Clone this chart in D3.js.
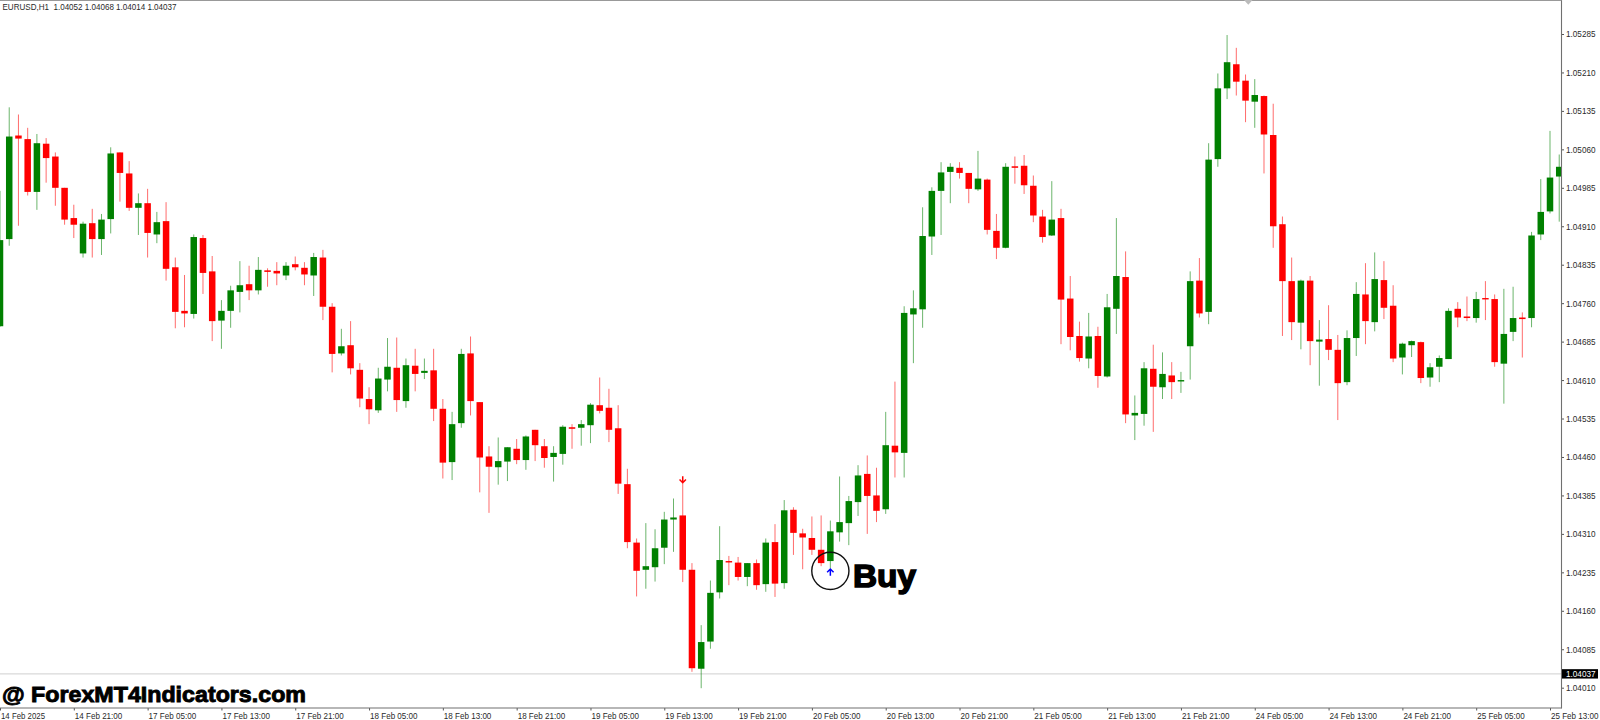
<!DOCTYPE html>
<html><head><meta charset="utf-8">
<style>html,body{margin:0;padding:0;background:#fff;overflow:hidden}svg{display:block}text{font-family:"Liberation Sans",sans-serif}</style>
<script src="https://cdn.jsdelivr.net/npm/d3@7/dist/d3.min.js"></script>
</head><body><svg id="c" width="1600" height="720"></svg>
<script>
const symbolTitle="EURUSD,H1";
const currentOHLC=["1.04052","1.04068","1.04014","1.04037"];
const currentPrice=1.04037;
const opens=[1.04715,1.04885,1.05087,1.05080,1.04977,1.05071,1.05046,1.04985,1.04926,1.04857,
1.04916,1.04885,1.04924,1.05054,1.05013,1.04946,1.04955,1.04894,1.04920,1.04830,
1.04745,1.04739,1.04887,1.04822,1.04726,1.04745,1.04782,1.04797,1.04785,1.04824,
1.04823,1.04814,1.04836,1.04829,1.04814,1.04849,1.04753,1.04662,1.04678,1.04630,
1.04573,1.04551,1.04611,1.04634,1.04569,1.04638,1.04624,1.04629,1.04554,1.04450,
1.04526,1.04662,1.04567,1.04461,1.04440,1.04451,1.04476,1.04454,1.04513,1.04481,
1.04460,1.04466,1.04518,1.04517,1.04522,1.04561,1.04556,1.04516,1.04407,1.04293,
1.04240,1.04245,1.04283,1.04338,1.04346,1.04240,1.04047,1.04100,1.04196,1.04257,
1.04254,1.04226,1.04253,1.04212,1.04294,1.04214,1.04357,1.04311,1.04302,1.04279,
1.04257,1.04313,1.04331,1.04372,1.04427,1.04385,1.04358,1.04482,1.04468,1.04738,
1.04748,1.04890,1.04979,1.05016,1.05024,1.05014,1.04982,1.05001,1.04901,1.04868,
1.05027,1.05028,1.04989,1.04929,1.04892,1.04926,1.04769,1.04696,1.04652,1.04696,
1.04617,1.04749,1.04811,1.04541,1.04544,1.04632,1.04596,1.04619,1.04609,1.04676,
1.04804,1.04743,1.05041,1.05179,1.05226,1.05194,1.05153,1.05164,1.05088,1.04914,
1.04803,1.04722,1.04804,1.04685,1.04690,1.04669,1.04606,1.04692,1.04777,1.04723,
1.04805,1.04755,1.04654,1.04678,1.04684,1.04615,1.04636,1.04651,1.04749,1.04734,
1.04731,1.04770,1.04768,1.04642,1.04704,1.04732,1.04731,1.04894,1.04939,1.05007];
const highs=[1.04979,1.05142,1.05128,1.05102,1.05090,1.05082,1.05054,1.04985,1.04952,1.04919,
1.04944,1.04934,1.05064,1.05054,1.05037,1.04974,1.04983,1.04938,1.04957,1.04849,
1.04815,1.04894,1.04893,1.04852,1.04766,1.04794,1.04842,1.04833,1.04850,1.04828,
1.04840,1.04840,1.04851,1.04840,1.04858,1.04864,1.04760,1.04710,1.04725,1.04643,
1.04596,1.04634,1.04692,1.04693,1.04652,1.04671,1.04652,1.04671,1.04573,1.04548,
1.04671,1.04695,1.04567,1.04481,1.04498,1.04479,1.04495,1.04502,1.04513,1.04495,
1.04481,1.04522,1.04524,1.04532,1.04565,1.04615,1.04593,1.04561,1.04437,1.04301,
1.04331,1.04319,1.04353,1.04379,1.04409,1.04253,1.04132,1.04219,1.04325,1.04267,
1.04265,1.04253,1.04260,1.04301,1.04329,1.04376,1.04362,1.04320,1.04344,1.04346,
1.04336,1.04422,1.04384,1.04444,1.04463,1.04439,1.04548,1.04607,1.04754,1.04785,
1.04947,1.04986,1.05035,1.05033,1.05035,1.05014,1.05057,1.05003,1.04934,1.05033,
1.05046,1.05049,1.05009,1.04942,1.04998,1.04944,1.04813,1.04724,1.04741,1.04714,
1.04778,1.04926,1.04861,1.04580,1.04645,1.04679,1.04664,1.04645,1.04626,1.04822,
1.04848,1.05072,1.05208,1.05283,1.05258,1.05206,1.05197,1.05165,1.05149,1.04929,
1.04849,1.04806,1.04813,1.04727,1.04756,1.04698,1.04707,1.04801,1.04838,1.04859,
1.04842,1.04795,1.04683,1.04687,1.04685,1.04643,1.04658,1.04750,1.04762,1.04773,
1.04782,1.04803,1.04777,1.04788,1.04792,1.04742,1.04899,1.05002,1.05096,1.05050];
const lows=[1.04714,1.04872,1.04911,1.04970,1.04942,1.04995,1.04950,1.04913,1.04887,1.04849,
1.04849,1.04854,1.04896,1.04958,1.04940,1.04893,1.04849,1.04877,1.04804,1.04711,
1.04713,1.04730,1.04778,1.04686,1.04671,1.04712,1.04742,1.04766,1.04777,1.04792,
1.04795,1.04805,1.04824,1.04795,1.04774,1.04727,1.04625,1.04658,1.04621,1.04557,
1.04524,1.04546,1.04588,1.04548,1.04556,1.04588,1.04612,1.04530,1.04418,1.04415,
1.04517,1.04541,1.04391,1.04351,1.04406,1.04413,1.04446,1.04435,1.04452,1.04439,
1.04412,1.04445,1.04476,1.04482,1.04487,1.04545,1.04489,1.04388,1.04282,1.04188,
1.04203,1.04217,1.04251,1.04275,1.04216,1.04041,1.04009,1.04086,1.04184,1.04210,
1.04219,1.04208,1.04201,1.04197,1.04187,1.04203,1.04269,1.04241,1.04269,1.04247,
1.04243,1.04295,1.04288,1.04345,1.04310,1.04333,1.04349,1.04420,1.04420,1.04643,
1.04712,1.04854,1.04893,1.04955,1.05003,1.04955,1.04979,1.04894,1.04846,1.04867,
1.04993,1.04973,1.04918,1.04878,1.04891,1.04680,1.04668,1.04646,1.04633,1.04595,
1.04615,1.04700,1.04526,1.04493,1.04521,1.04509,1.04573,1.04573,1.04585,1.04611,
1.04732,1.04719,1.05026,1.05158,1.05165,1.05113,1.05102,1.05013,1.04868,1.04696,
1.04688,1.04670,1.04639,1.04599,1.04649,1.04532,1.04600,1.04657,1.04680,1.04705,
1.04729,1.04645,1.04621,1.04655,1.04604,1.04597,1.04606,1.04651,1.04713,1.04725,
1.04722,1.04727,1.04636,1.04564,1.04686,1.04654,1.04713,1.04883,1.04935,1.04919];
const closes=[1.04883,1.05085,1.05081,1.04977,1.05072,1.05043,1.04985,1.04923,1.04913,1.04915,
1.04885,1.04923,1.05052,1.05014,1.04946,1.04955,1.04897,1.04918,1.04827,1.04743,
1.04740,1.04889,1.04819,1.04725,1.04745,1.04785,1.04795,1.04785,1.04825,1.04821,
1.04818,1.04833,1.04830,1.04816,1.04850,1.04753,1.04661,1.04676,1.04633,1.04574,
1.04553,1.04613,1.04636,1.04571,1.04639,1.04622,1.04628,1.04554,1.04449,1.04524,
1.04661,1.04569,1.04459,1.04441,1.04452,1.04479,1.04454,1.04500,1.04483,1.04458,
1.04468,1.04519,1.04515,1.04524,1.04562,1.04550,1.04513,1.04408,1.04294,1.04238,
1.04247,1.04282,1.04338,1.04342,1.04240,1.04048,1.04099,1.04195,1.04259,1.04255,
1.04226,1.04253,1.04210,1.04293,1.04213,1.04356,1.04312,1.04303,1.04279,1.04253,
1.04315,1.04333,1.04374,1.04424,1.04384,1.04355,1.04483,1.04469,1.04741,1.04750,
1.04891,1.04979,1.05015,1.05026,1.05014,1.04983,1.05003,1.04903,1.04868,1.05026,
1.05024,1.04990,1.04931,1.04889,1.04923,1.04767,1.04694,1.04653,1.04695,1.04618,
1.04752,1.04813,1.04543,1.04546,1.04633,1.04597,1.04622,1.04606,1.04610,1.04803,
1.04740,1.05040,1.05179,1.05230,1.05192,1.05155,1.05166,1.05089,1.04910,1.04803,
1.04723,1.04804,1.04686,1.04689,1.04669,1.04604,1.04692,1.04778,1.04725,1.04807,
1.04751,1.04652,1.04681,1.04686,1.04614,1.04635,1.04653,1.04745,1.04732,1.04731,
1.04768,1.04769,1.04645,1.04700,1.04731,1.04729,1.04892,1.04938,1.05005,1.05026];
const priceTicks=[1.05285,1.05210,1.05135,1.05060,1.04985,1.04910,1.04835,1.04760,1.04685,1.04610,1.04535,1.04460,1.04385,1.04310,1.04235,1.04160,1.04085,1.04010];
const timeLabels=["14 Feb 2025","14 Feb 21:00","17 Feb 05:00","17 Feb 13:00","17 Feb 21:00","18 Feb 05:00","18 Feb 13:00","18 Feb 21:00","19 Feb 05:00","19 Feb 13:00","19 Feb 21:00","20 Feb 05:00","20 Feb 13:00","20 Feb 21:00","21 Feb 05:00","21 Feb 13:00","21 Feb 21:00","24 Feb 05:00","24 Feb 13:00","24 Feb 21:00","25 Feb 05:00","25 Feb 13:00"];
const barsPerLabel=8;
const sellSignal={bar:74,price:1.04409};
const buySignal={bar:90,price:1.04243};
const buyLabel="Buy";
const watermark="@ ForexMT4Indicators.com";

const axisX=1561.5,axisY=708;
const x=d3.scaleLinear().domain([0,168]).range([0,1550]);
const y=d3.scaleLinear().domain([1.04010,1.05285]).range([687.7,34]);
const svg=d3.select("#c");
const GREEN="#008000",RED="#ff0000";
svg.append("clipPath").attr("id","plot").append("rect").attr("x",0).attr("y",0).attr("width",axisX).attr("height",axisY);

svg.append("line").attr("x1",0).attr("x2",axisX).attr("y1",y(currentPrice)).attr("y2",y(currentPrice)).attr("stroke","#d9d9d9").attr("stroke-width",1.2);

const g=svg.append("g").attr("clip-path","url(#plot)");
const bars=d3.range(opens.length).map(i=>({i,o:opens[i],h:highs[i],l:lows[i],c:closes[i]}));
const cg=g.selectAll("g").data(bars).join("g");
cg.append("line").attr("x1",d=>x(d.i)).attr("x2",d=>x(d.i)).attr("y1",d=>y(d.h)).attr("y2",d=>y(d.l))
 .attr("stroke",d=>d.c>=d.o?GREEN:RED).attr("stroke-width",1).attr("stroke-opacity",.58);
cg.append("rect").attr("x",d=>x(d.i)-3.25).attr("width",6.5)
 .attr("y",d=>y(Math.max(d.o,d.c))).attr("height",d=>Math.max(1.4,Math.abs(y(d.o)-y(d.c))))
 .attr("fill",d=>d.c>=d.o?GREEN:RED);

const FS="9.2px";
const yAxis=svg.append("g").attr("transform",`translate(${axisX},0)`).call(d3.axisRight(y).tickValues(priceTicks).tickFormat(d3.format(".5f")).tickSize(2.5).tickPadding(2));
const xAxis=svg.append("g").attr("transform",`translate(0,${axisY})`).call(d3.axisBottom(x).tickValues(timeLabels.map((_,i)=>i*barsPerLabel)).tickFormat((d,i)=>timeLabels[i]).tickSize(2.5).tickPadding(1));
[yAxis,xAxis].forEach(a=>{a.select(".domain").remove();a.selectAll("line").attr("stroke","#555");a.selectAll("text").attr("fill","#2a2a2a").attr("lengthAdjust","spacingAndGlyphs").style("font-size",FS).style("font-family",'"Liberation Sans",sans-serif');});
yAxis.selectAll("text").attr("x",4.5).attr("textLength",29.5);
xAxis.selectAll("text").attr("text-anchor","start").attr("x",0.5).attr("y",10.7).attr("dy",0)
 .attr("textLength",(d,i)=>i===0?44:47.5);
svg.append("line").attr("x1",axisX).attr("x2",axisX).attr("y1",0).attr("y2",axisY+.5).attr("stroke","#707070").attr("stroke-width",1.1);
svg.append("line").attr("x1",0).attr("x2",axisX).attr("y1",axisY).attr("y2",axisY).attr("stroke","#707070").attr("stroke-width",1.1);
svg.append("line").attr("x1",0).attr("x2",axisX).attr("y1",.5).attr("y2",.5).attr("stroke","#999").attr("stroke-width",1.2);
svg.append("path").attr("d",d3.line()([[1244,0],[1252.5,0],[1248.3,4.8]])+"Z").attr("fill","#bbb");

svg.append("rect").attr("x",axisX+.5).attr("y",y(currentPrice)-4.7).attr("width",36).attr("height",9.4).attr("fill","#000");
svg.append("text").attr("x",axisX+4.5).attr("y",y(currentPrice)+3.2).attr("fill","#fff").attr("lengthAdjust","spacingAndGlyphs").attr("textLength",29.5).style("font-size",FS).text(d3.format(".5f")(currentPrice));

svg.append("text").attr("x",2.5).attr("y",10).attr("fill","#2a2a2a").style("font-size",FS).attr("xml:space","preserve")
 .attr("lengthAdjust","spacingAndGlyphs").attr("textLength",174)
 .text(symbolTitle+"  "+currentOHLC.join(" "));

const arrow=(s,dir,col)=>{const X=x(s.bar),Y=y(s.price);
 svg.append("path").attr("transform",`translate(${X},${Y})`)
  .attr("d",dir<0?"M0,-7V-0.5M-3.2,-3.6L0,-0.4L3.2,-3.6":"M0,7.5V0.8M-3.2,4L0,0.8L3.2,4")
  .attr("fill","none").attr("stroke",col).attr("stroke-width",1.5);};
arrow(sellSignal,-1,"#ff0000");
arrow(buySignal,1,"#0000ff");
svg.append("circle").attr("cx",x(buySignal.bar)).attr("cy",y(buySignal.price)+2.6).attr("r",18.6).attr("fill","none").attr("stroke","#111").attr("stroke-width",1.4);
svg.append("text").attr("x",853).attr("y",587).attr("fill","#000").attr("stroke","#000").attr("stroke-width",1.5).style("font-size","32px").style("font-weight",700).attr("lengthAdjust","spacingAndGlyphs").attr("textLength",63).text(buyLabel);
svg.append("text").attr("x",2).attr("y",701.8).attr("fill","#000").attr("stroke","#000").attr("stroke-width",.9).style("font-size","22px").style("font-weight",700).attr("lengthAdjust","spacingAndGlyphs").attr("textLength",304).text(watermark);
</script></body></html>
